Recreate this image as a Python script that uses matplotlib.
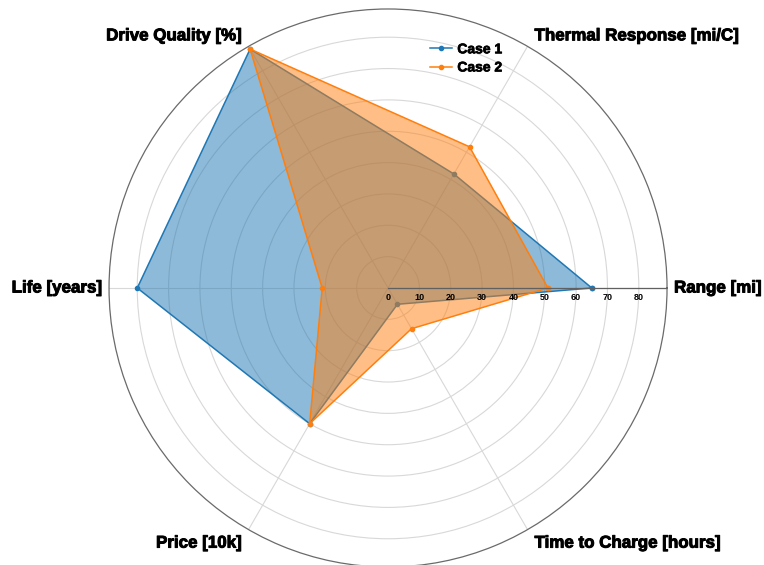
import numpy as np
from matplotlib import pyplot as plt
from matplotlib import transforms
import matplotlib.patheffects as pe

# data
categorias = ["Range [mi]", "Thermal Response [mi/C]", "Drive Quality [%]",
              "Life [years]", "Price [10k]", "Time to Charge [hours]"]
caso1 = [65, 42, 88, 80, 50, 6]
caso2 = [51, 52, 88, 21, 50, 15]
ticks_r = [0, 10, 20, 30, 40, 50, 60, 70, 80]
rmax = 89

plt.rcParams['font.family'] = ['Liberation Sans', 'DejaVu Sans']

fig = plt.figure(figsize=(7.64, 5.65), dpi=100)
ax = fig.add_axes([0.1427, -0.0035, 0.7304, 0.9876], projection='polar')

n = len(categorias)
ang = np.arange(n) * 2 * np.pi / n
ang_c = np.concatenate([ang, ang[:1]])

azul = '#1f77b4'
naranja = '#ff7f0e'
grueso = [pe.withStroke(linewidth=0.7, foreground='black')]

z = 2
for vals, col, nombre in [(caso1, azul, 'Case 1'), (caso2, naranja, 'Case 2')]:
    v = np.concatenate([vals, vals[:1]])
    ax.fill(ang_c, v, color=col, alpha=0.5, zorder=z, lw=0)
    ax.plot(ang_c, v, color=col, lw=1.1, marker='o', ms=3, label=nombre, zorder=z + 0.5)
    z += 1

ax.set_ylim(0, rmax)
ax.set_xticks(ang)
ax.set_xticklabels([])
ax.set_yticks(ticks_r[1:])
ax.set_yticklabels([])
ax.grid(color='#d8d8d8', lw=0.8)
ax.spines['polar'].set_color('#6a6a6a')
ax.spines['polar'].set_linewidth(0.9)
ax.tick_params(axis='both', length=0)

# eje radial
ax.plot([0, 0], [0, rmax], color='#606060', lw=0.9, zorder=5)
off = transforms.offset_copy(ax.transData, fig=fig, x=0, y=-10, units='dots')
for t in ticks_r:
    ax.text(0, t, str(t), transform=off, ha='center', va='center',
            fontsize=6.5, fontweight='bold', zorder=6)

# etiquetas de las categorias
alin = [('left', 'center'), ('left', 'bottom'), ('right', 'bottom'),
        ('right', 'center'), ('right', 'top'), ('left', 'top')]
for a, lab, (ha, va) in zip(ang, categorias, alin):
    dx = 7 if ha == 'left' else -7
    dy = 0 if va == 'center' else (3 if va == 'bottom' else -6)
    tr = transforms.offset_copy(ax.transData, fig=fig, x=dx, y=dy, units='dots')
    ax.text(a, rmax, lab, transform=tr, ha=ha, va=va, fontsize=12.2,
            fontweight='bold', clip_on=False, path_effects=grueso)

leg = fig.legend(loc='upper left', bbox_to_anchor=(0.555, 0.935), frameon=False,
                 prop={'weight': 'bold', 'size': 10}, handlelength=1.6,
                 handletextpad=0.4, labelspacing=0.3, borderaxespad=0)
for txt in leg.get_texts():
    txt.set_path_effects([pe.withStroke(linewidth=0.5, foreground='black')])

plt.savefig('out.png', dpi=100)
